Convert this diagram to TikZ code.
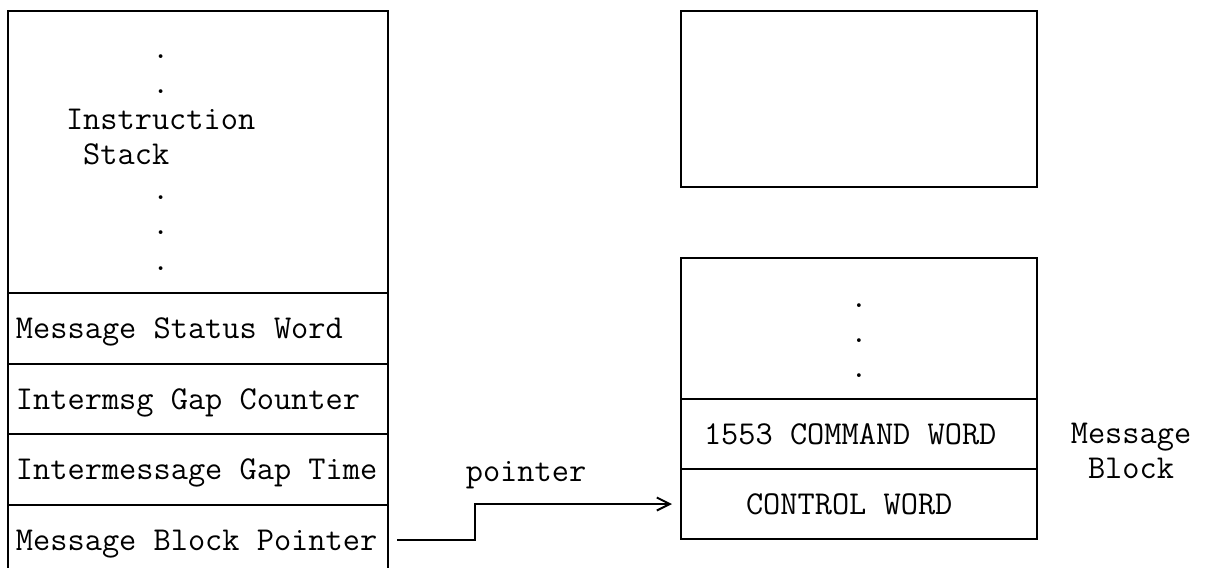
\documentclass[tikz,border=0pt]{standalone}
\usepackage{fontspec}
\usetikzlibrary{arrows.meta,positioning}

\tikzset{
  cell/.style={draw, rectangle, line width=2pt, inner sep=0pt, outer sep=0pt,
    text height=21pt, text depth=0pt, align=flush left, minimum height=70.5pt},
  link/.style={line width=2pt, -{Straight Barb[length=13pt,width=13pt]},
    shorten <=9pt, shorten >=9pt},
}

\begin{document}
\begin{tikzpicture}[x=1pt,y=-1pt,font=\ttfamily\fontsize{33.4}{35.3}\selectfont]
  \useasboundingbox (0,0) rectangle (1230,567);
  \clip (0,0) rectangle (1230,567);
  % left: instruction stack and the message words
  \node[cell, minimum width=380pt, minimum height=282pt, text width=264pt,
    text height=20pt, text depth=207pt] (stack) at (198,152)
    {\hphantom{xxxxx}.\\\hphantom{xxxxx}.\\Instruction\\\hphantom{x}Stack\\
     \hphantom{xxxxx}.\\\hphantom{xxxxx}.\\\hphantom{xxxxx}.};
  \node[cell, minimum width=380pt, text width=364pt, below=0pt of stack] (status)
    {Message Status Word};
  \node[cell, minimum width=380pt, text width=364pt, below=0pt of status] (gapcnt)
    {Intermsg Gap Counter};
  \node[cell, minimum width=380pt, text width=364pt, below=0pt of gapcnt] (gaptime)
    {Intermessage Gap Time};
  \node[cell, minimum width=380pt, text width=364pt, below=0pt of gaptime] (ptr)
    {Message Block Pointer};
  % right: message blocks
  \node[cell, minimum width=356pt, minimum height=176pt] (spare) at (859,99) {};
  \node[cell, minimum width=356pt, minimum height=141pt, text width=20pt,
    align=flush center, text height=20pt, text depth=63pt] (msgdots) at (859,328.5)
    {.\\.\\.};
  \node[cell, minimum width=356pt, minimum height=70pt, text width=310pt,
    below=0pt of msgdots] (cmd) {1553 COMMAND WORD};
  \node[cell, minimum width=356pt, minimum height=70pt, text width=226pt,
    below=0pt of cmd] (ctrl) {CONTROL WORD};
  \node[text width=130pt, align=flush center, inner sep=0pt, anchor=base]
    (msglabel) at (1131,443) {Message\\Block};
  \node[anchor=base] (ptrlabel) at (526,481) {pointer};
  \draw[link] (ptr.east) -- ++(87,0) |- (ctrl.west);
\end{tikzpicture}
\end{document}
